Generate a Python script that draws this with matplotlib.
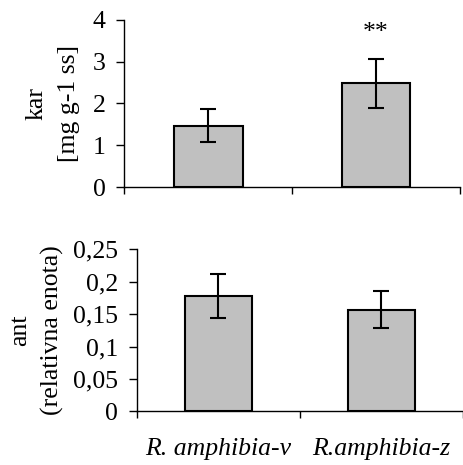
import matplotlib
matplotlib.use("Agg")
import matplotlib.pyplot as plt

plt.rcParams['font.family'] = 'serif'
plt.rcParams['font.serif'] = ['Liberation Serif', 'DejaVu Serif']
plt.rcParams['font.size'] = 18.5
FAM = 'Liberation Serif'

categories = ["R. amphibia-v", "R.amphibia-z"]
kar_values = [1.47, 2.48]
kar_err = [0.39, 0.59]
kar_ticks = [0, 1, 2, 3, 4]
kar_ticklabels = ["0", "1", "2", "3", "4"]
kar_sig = ["", "**"]
kar_sig_y = 3.68

ant_values = [0.178, 0.157]
ant_err = [0.034, 0.029]
ant_ticks = [0, 0.05, 0.1, 0.15, 0.2, 0.25]
ant_ticklabels = ["0", "0,05", "0,1", "0,15", "0,2", "0,25"]

W, H = 463, 465
fig = plt.figure(figsize=(W/100, H/100), dpi=100)

def ax_rect(l, t, r, b):
    return [l/W, 1 - b/H, (r - l)/W, (b - t)/H]

ax1 = fig.add_axes(ax_rect(124.3, 20, 460, 187))
ax2 = fig.add_axes(ax_rect(136.7, 249.3, 463, 411.3))

pos = [0.5, 1.5]

def style(ax, vals, errs, ticks, ticklabels, ylim):
    ax.bar(pos, vals, width=0.41, color="#c0c0c0", edgecolor="black", linewidth=1.5, zorder=2)
    ax.errorbar(pos, vals, yerr=errs, fmt="none", ecolor="black", elinewidth=1.5,
                capsize=5.5, capthick=1.5, zorder=3)
    ax.set_xlim(0, 2)
    ax.set_ylim(*ylim)
    ax.set_yticks(ticks)
    ax.set_yticklabels(ticklabels, family=FAM)
    ax.set_xticks([0, 1, 2])
    ax.set_xticklabels([])
    for s in ["top", "right"]:
        ax.spines[s].set_visible(False)
    for s in ["left", "bottom"]:
        ax.spines[s].set_linewidth(1.0)
    ax.tick_params(axis="y", direction="out", length=5.6, width=1.0, pad=8)
    ax.tick_params(axis="x", which="major", direction="out", length=5, width=1.0)

style(ax1, kar_values, kar_err, kar_ticks, kar_ticklabels, (0, 4))
style(ax2, ant_values, ant_err, ant_ticks, ant_ticklabels, (0, 0.25))

for x, s in zip(pos, kar_sig):
    if s:
        ax1.text(x, kar_sig_y, s, ha="center", va="center", fontsize=18.5, family=FAM)

ax1.set_ylabel("kar\n[mg g-1 ss]", linespacing=1.6, labelpad=9, family=FAM)
ax2.set_ylabel("ant\n(relativna enota)", linespacing=1.6, labelpad=6, family=FAM)

ax2.set_xticks(pos, minor=True)
ax2.set_xticklabels(categories, minor=True, style="italic", family=FAM)
ax2.tick_params(axis="x", which="minor", length=0, pad=19)

fig.savefig("out.png", dpi=100)
